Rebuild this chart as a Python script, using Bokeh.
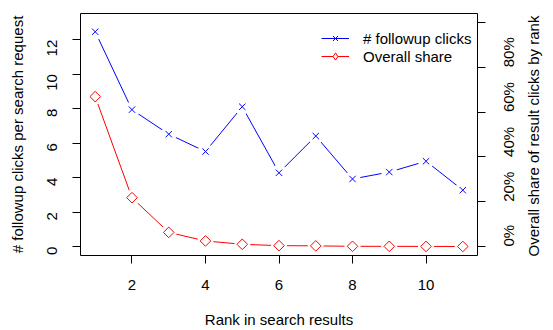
import math
from bokeh.plotting import figure
from bokeh.models import (Range1d, LinearAxis, FixedTicker, Legend, LegendItem)
from bokeh.embed import file_html
from bokeh.resources import INLINE

# ---- data ----
ranks = [1, 2, 3, 4, 5, 6, 7, 8, 9, 10, 11]
followup_clicks = [12.46, 7.94, 6.52, 5.51, 8.11, 4.28, 6.41, 3.92, 4.32, 4.95, 3.27]
overall_share = [0.669, 0.218, 0.063, 0.025, 0.010, 0.004, 0.003, 0.001, 0.001, 0.0005, 0.0003]

x_ticks = [2, 4, 6, 8, 10]
click_ticks = [0, 2, 4, 6, 8, 10, 12]
share_ticks = [0, 0.2, 0.4, 0.6, 0.8, 1.0]
share_tick_labels = ["0%", "20%", "40%", "60%", "80%", ""]

FONT = "Liberation Sans"
FS = "15px"
RIGHT_LABEL = "Overall share of result clicks by rank"
RIGHT_LABEL_POS = 0.09   # anchor (in share units) of the right-hand title label

p = figure(width=553, height=330, output_backend="svg", toolbar_location=None,
           x_range=Range1d(0.6, 11.4), y_range=Range1d(-0.52, 13.52),
           min_border_left=80, min_border_right=70, min_border_top=13, min_border_bottom=72)
p.extra_y_ranges = {"share": Range1d(-0.04, 1.04)}
p.grid.visible = False
p.outline_line_color = "black"
p.outline_line_alpha = 1
p.outline_line_width = 1
p.background_fill_color = "white"
p.border_fill_color = "white"

def style_axis(ax):
    ax.axis_line_color = None
    ax.major_tick_line_color = "black"
    ax.major_tick_out = 8
    ax.major_tick_in = 0
    ax.minor_tick_line_color = None
    ax.major_label_text_font = FONT
    ax.major_label_text_font_size = FS
    ax.major_label_text_color = "black"
    ax.axis_label_text_font = FONT
    ax.axis_label_text_font_size = FS
    ax.axis_label_text_font_style = "normal"
    ax.axis_label_text_color = "black"

# x axis
p.xaxis.ticker = FixedTicker(ticks=x_ticks)
p.xaxis.axis_label = "Rank in search results"
style_axis(p.xaxis[0])
p.xaxis.major_label_standoff = 16
p.xaxis.axis_label_standoff = 18

# left axis
p.yaxis.ticker = FixedTicker(ticks=click_ticks)
p.yaxis.axis_label = "# followup clicks per search request"
style_axis(p.yaxis[0])
p.yaxis.major_label_orientation = math.pi / 2
p.yaxis.major_label_standoff = 20
p.yaxis.axis_label_standoff = 14

# right axis (percent ticks)
rax = LinearAxis(y_range_name="share", ticker=FixedTicker(ticks=share_ticks),
                 major_label_overrides=dict(zip(share_ticks, share_tick_labels)))
style_axis(rax)
rax.major_label_orientation = math.pi / 2
rax.major_label_standoff = 23
p.add_layout(rax, "right")

# right-hand title, drawn as a single rotated (bottom-to-top) label
tax = LinearAxis(y_range_name="share", ticker=FixedTicker(ticks=[RIGHT_LABEL_POS]),
                 major_label_overrides={RIGHT_LABEL_POS: RIGHT_LABEL})
style_axis(tax)
tax.major_tick_line_color = None
tax.major_tick_out = 0
tax.major_label_orientation = math.pi / 2
tax.major_label_standoff = 5
p.add_layout(tax, "right")

# blue series
bl = p.line(ranks, followup_clicks, line_color="blue", line_width=1)
p.scatter(ranks, followup_clicks, marker="circle", size=16, fill_color="white", line_color=None)
bx = p.scatter(ranks, followup_clicks, marker="x", size=9, line_color="blue", line_width=1)

# red series
rl = p.line(ranks, overall_share, line_color="red", line_width=1, y_range_name="share")
p.scatter(ranks, overall_share, marker="circle", size=16, fill_color="white", line_color=None,
          y_range_name="share")
# diamond used for the legend swatch (hidden under the plotted rotated squares)
rd_leg = p.scatter(ranks, overall_share, marker="diamond", size=7, fill_color="white",
                   line_color="red", line_width=1, y_range_name="share")
rd = p.scatter(ranks, overall_share, marker="square", angle=math.pi / 4, size=7.5,
               fill_color="white", line_color="red", line_width=1, y_range_name="share")

legend = Legend(items=[LegendItem(label="# followup clicks", renderers=[bl, bx]),
                       LegendItem(label="Overall share", renderers=[rl, rd_leg])],
                location=(241, 190), padding=0, spacing=0, margin=0,
                glyph_width=28, glyph_height=18, label_height=18, label_standoff=14,
                border_line_color=None, background_fill_alpha=0,
                label_text_font=FONT, label_text_font_size=FS, label_text_color="black")
p.add_layout(legend)

open("out.html", "w").write(file_html(p, INLINE))
